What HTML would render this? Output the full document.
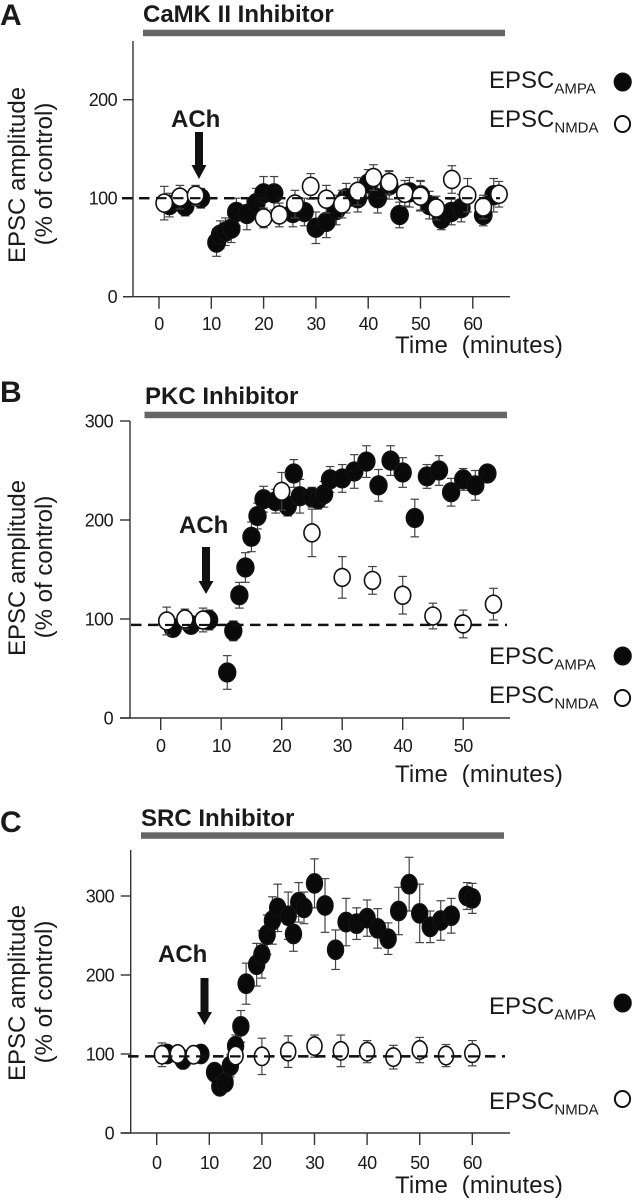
<!DOCTYPE html>
<html>
<head>
<meta charset="utf-8">
<style>
html,body{margin:0;padding:0;background:#fff;width:632px;height:1200px;overflow:hidden}
svg{display:block}
text{font-family:"Liberation Sans",sans-serif;fill:#1a1a1a}
</style>
</head>
<body>
<svg id="chart" width="632" height="1200" viewBox="0 0 632 1200" xmlns="http://www.w3.org/2000/svg"></svg>
<script>
var aAmpaT=[2,5,8,11,11.7,12.7,13.8,14.8,16.8,18.6,20,22,25.6,27.8,30,32,33.9,35.8,38,40,41.8,44,46,47.9,50,51.7,54,55.9,57.8,62,64];
var aAmpaV=[93,92,100,55,63,66,69,86,84,95,105,105,85,86,70,76,88,100,100,115,100,113,83,106,103,93,79,86,90,83,103];
var aAmpaE=[12,10,10,14,14,14,14,14,16,15,17,17,14,14,16,16,15,15,14,14,15,14,13,15,15,14,11,13,14,11,17];
var aNmdaT=[1,4,7,20,23,26,29,32,35,38,41,44,47,50,53,56,59,62,65];
var aNmdaV=[95,101,103,80,83,94,112,99,94,107,121,116,105,102,90,119,103,91,104];
var aNmdaE=[17,12,10,10,12,14,13,14,14,14,13,12,13,15,12,14,17,12,13];
var bAmpaT=[2,5,8,11,12,13,14,15,16,17,19,21,22,23,25,26,27,28,30,32,34,36,38,40,42,44,46,48,50,52,54];
var bAmpaV=[91,94,99,46,88,124,152,183,204,221,219,214,247,224,223,221,226,241,242,249,259,235,260,248,202,244,250,228,241,235,247];
var bAmpaE=[5,8,10,17,10,13,15,15,13,13,12,10,14,17,10,10,13,13,14,17,16,16,15,15,19,12,15,14,11,15,5];
var bNmdaT=[1,4,7,20,25,30,35,40,45,50,55];
var bNmdaV=[98,100,99,229,187,142,139,124,103,95,115];
var bNmdaE=[14,10,12,19,24,21,14,19,13,14,16];
var cAmpaT=[2,5,8.4,11,12,13,14,15,16,17,19,20,21,22,23,25,26,27,28,30,32,34,36,38,40,42,44,46,48,50,52,54,56,59,60];
var cAmpaV=[100,93,100,77,59,64,85,110,135,189,213,226,251,269,285,275,252,292,285,316,288,232,267,265,272,259,246,281,315,278,261,269,275,300,297];
var cAmpaE=[10,8,8,10,8,10,14,14,20,26,27,30,25,30,30,30,22,25,20,31,34,25,30,20,23,25,20,30,34,37,20,25,22,17,19];
var cNmdaT=[1,4,7,15,20,25,30,35,40,45,50,55,60];
var cNmdaV=[99,100,99,98,97,103,110,104,103,96,105,98,101];
var cNmdaE=[15,10,8,8,23,20,14,20,14,15,16,14,16];
var aYTicks=[0,100,200];
var bYTicks=[0,100,200,300];
var cYTicks=[0,100,200,300];
var aXTicks=[0,10,20,30,40,50,60];
var bXTicks=[0,10,20,30,40,50];
var cXTicks=[0,10,20,30,40,50,60];
var aBaseline=100;
var bBaseline=94;
var cBaseline=97;

var NS='http://www.w3.org/2000/svg';
var svg=document.getElementById('chart');
function mk(tag,attrs,name,parent){
  var e=document.createElementNS(NS,tag);
  for(var k in attrs){e.setAttribute(k,attrs[k]);}
  
  
  (parent||svg).appendChild(e);
  return e;
}
function label(str,x,y,size,weight,anchor,name,parent){
  var t=mk('text',{x:x,y:y,'font-size':size,'font-weight':weight||'normal','text-anchor':anchor||'start'},name,parent);
  t.textContent=str;
  return t;
}
function epsc(sub,x,y,name,parent){
  var t=mk('text',{x:x,y:y,'font-size':24},name,parent);
  var a=document.createElementNS(NS,'tspan');
  a.textContent='EPSC';
  t.appendChild(a);
  var b=document.createElementNS(NS,'tspan');
  b.setAttribute('dy','5.5');
  b.setAttribute('font-size','15');
  b.textContent=sub;
  t.appendChild(b);
}
function drawPanel(p){
  var g=mk('g',{},'panel-'+p.id);
  function sx(t){return p.x0+t*p.xs;}
  function sy(v){return p.y0-v*p.ys;}
  label(p.letter,0,p.letterY,30,'bold','start','panel-letter',g);
  label(p.title,p.titleX,p.titleY,24,'bold','start','treatment-title',g);
  mk('rect',{x:p.barX0,y:p.barY,width:p.barX1-p.barX0,height:6.5,fill:'#666'},'treatment-bar',g);
  mk('line',{x1:p.ax,y1:p.yTop,x2:p.ax,y2:p.y0,stroke:'#333','stroke-width':1.4},'y-axis',g);
  mk('line',{x1:p.ax-10,y1:p.y0,x2:p.axEnd,y2:p.y0,stroke:'#333','stroke-width':1.4},'x-axis',g);
  p.yTicks.forEach(function(v){
    mk('line',{x1:p.ax-10,y1:sy(v),x2:p.ax,y2:sy(v),stroke:'#333','stroke-width':1.4},'y-tick',g);
    var yl=label(String(v),p.tickLabX,sy(v)+6.5,18,'normal','end','y-tick-label',g);
    yl.setAttribute('letter-spacing','-0.6');
  });
  p.xTicks.forEach(function(t){
    mk('line',{x1:sx(t),y1:p.y0,x2:sx(t),y2:p.y0+12,stroke:'#333','stroke-width':1.4},'x-tick',g);
    var xl=label(String(t),sx(t),p.tickY,18,'normal','middle','x-tick-label',g);
    xl.setAttribute('letter-spacing','-0.6');
  });
  var yt1=label('EPSC amplitude',0,0,24,'normal','middle','y-axis-title',g);
  yt1.setAttribute('transform','translate(25,'+p.ylabelY+') rotate(-90)');
  var yt2=label('(% of control)',0,0,24,'normal','middle','y-axis-subtitle',g);
  yt2.setAttribute('transform','translate(52,'+(p.ylabelY-1)+') rotate(-90)');
  var tl=label('Time  (minutes)',395,p.timeY,24,'normal','start','x-axis-title',g);
  tl.setAttribute('letter-spacing','0.15');
  tl.style.whiteSpace='pre';
  mk('line',{x1:p.dash0,y1:sy(p.base),x2:p.dash1,y2:sy(p.base),stroke:'#111','stroke-width':2.4,'stroke-dasharray':'10.5 6.5'},'baseline-dashed',g);
  label('ACh',p.achX,p.achY,24,'bold','start','ach-label',g);
  mk('rect',{x:p.arrX-4,y:p.arrTop,width:8,height:p.arrMid-p.arrTop,fill:'#111'},'ach-arrow-shaft',g);
  mk('polygon',{points:(p.arrX-7.5)+','+p.arrMid+' '+(p.arrX+7.5)+','+p.arrMid+' '+p.arrX+','+p.arrTip,fill:'#111'},'ach-arrow-head',g);
  function series(T,V,E,fill,name,shrink){
    T.forEach(function(t,i){
      var cx=sx(t);
      var top=sy(V[i]+E[i]);
      var bot=sy(V[i]-E[i]);
      mk('line',{x1:cx,y1:top,x2:cx,y2:bot,stroke:'#444','stroke-width':1.2},name+'-error-bar',g);
      mk('line',{x1:cx-4.3,y1:top,x2:cx+4.3,y2:top,stroke:'#444','stroke-width':1.2},name+'-error-cap',g);
      mk('line',{x1:cx-4.3,y1:bot,x2:cx+4.3,y2:bot,stroke:'#444','stroke-width':1.2},name+'-error-cap',g);
    });
    T.forEach(function(t,i){
      mk('ellipse',{cx:sx(t),cy:sy(V[i]),rx:p.rx-shrink,ry:p.ry-shrink,fill:fill,stroke:'#111','stroke-width':1.6},name+'-point',g);
    });
  }
  series(p.ampaT,p.ampaV,p.ampaE,'#0a0a0a','ampa',0);
  series(p.nmdaT,p.nmdaV,p.nmdaE,'#fff','nmda',0.4);
  mk('line',{x1:p.dash0,y1:sy(p.base),x2:p.dash1,y2:sy(p.base),stroke:'#111','stroke-width':2.2,'stroke-dasharray':'10.5 6.5'},'baseline-dashed-overlay',g);
  epsc('AMPA',489,p.legY1,'legend-ampa-label',g);
  mk('ellipse',{cx:622.7,cy:p.legM1,rx:8.4,ry:8.8,fill:'#0a0a0a',stroke:'#111','stroke-width':1.4},'legend-ampa-marker',g);
  epsc('NMDA',489,p.legY2,'legend-nmda-label',g);
  mk('ellipse',{cx:622.5,cy:p.legM2,rx:7.6,ry:8,fill:'#fff',stroke:'#111','stroke-width':2},'legend-nmda-marker',g);
}
drawPanel({id:'a',letter:'A',letterY:25,title:'CaMK II Inhibitor',titleX:143,titleY:22,barX0:143,barX1:505,barY:29.7,
  ax:133,axEnd:510,yTop:41,x0:159,xs:5.23,y0:296.7,ys:0.985,yTicks:aYTicks,xTicks:aXTicks,tickY:330,tickLabX:117,
  ylabelY:175,timeY:353,base:aBaseline,dash0:122,dash1:500,
  achX:171,achY:127,arrX:199,arrTop:132,arrMid:165,arrTip:179,rx:8.6,ry:9.4,
  ampaT:aAmpaT,ampaV:aAmpaV,ampaE:aAmpaE,nmdaT:aNmdaT,nmdaV:aNmdaV,nmdaE:aNmdaE,
  legY1:88,legM1:82,legY2:127,legM2:124});
drawPanel({id:'b',letter:'B',letterY:402,title:'PKC Inhibitor',titleX:145,titleY:404,barX0:144.5,barX1:507,barY:411.7,
  ax:130,axEnd:510,yTop:421,x0:160.7,xs:6.05,y0:718,ys:0.99,yTicks:bYTicks,xTicks:bXTicks,tickY:752,tickLabX:113,
  ylabelY:568,timeY:782,base:bBaseline,dash0:131,dash1:507,
  achX:179,achY:533,arrX:206,arrTop:547,arrMid:581,arrTip:594,rx:8.4,ry:9.3,
  ampaT:bAmpaT,ampaV:bAmpaV,ampaE:bAmpaE,nmdaT:bNmdaT,nmdaV:bNmdaV,nmdaE:bNmdaE,
  legY1:664,legM1:656,legY2:703,legM2:698});
drawPanel({id:'c',letter:'C',letterY:832,title:'SRC Inhibitor',titleX:141,titleY:826,barX0:141,barX1:504,barY:832.3,
  ax:130.7,axEnd:510,yTop:850,x0:156.7,xs:5.26,y0:1133,ys:0.79,yTicks:cYTicks,xTicks:cXTicks,tickY:1169,tickLabX:114,
  ylabelY:993,timeY:1193,base:cBaseline,dash0:128,dash1:505,
  achX:158,achY:962,arrX:204.5,arrTop:978,arrMid:1012,arrTip:1025,rx:7.9,ry:9.6,
  ampaT:cAmpaT,ampaV:cAmpaV,ampaE:cAmpaE,nmdaT:cNmdaT,nmdaV:cNmdaV,nmdaE:cNmdaE,
  legY1:1014,legM1:1003,legY2:1109,legM2:1099});
</script>
</body>
</html>
